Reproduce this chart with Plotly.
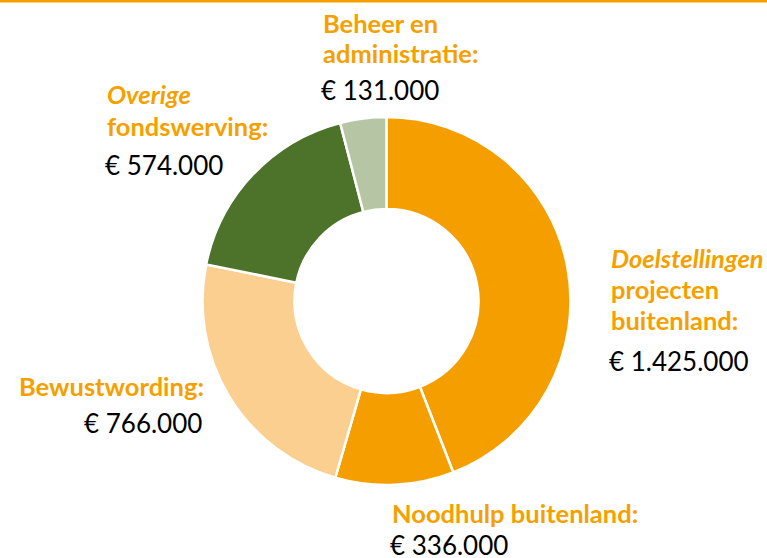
import plotly.graph_objects as go

W, H = 767, 558

categories = ["Doelstellingen projecten buitenland", "Noodhulp buitenland", "Bewustwording",
              "Overige fondswerving", "Beheer en administratie"]
values = [1425000, 336000, 766000, 574000, 131000]
colors = ["#F49E00", "#F49E00", "#FBCF8F", "#4D7229", "#B6C6A5"]

# label lines per category (orange heading lines), italic flags per line
label_lines = [
    [("Doelstellingen", True), ("projecten", False), ("buitenland:", False)],
    [("Noodhulp buitenland:", False)],
    [("Bewustwording:", False)],
    [("Overige", True), ("fondswerving:", False)],
    [("Beheer en", False), ("administratie:", False)],
]

ORANGE_TXT = "#F6A000"
FONT = "Lato"
FS_LABEL = 25.5
FS_VALUE = 26


def euro(v):
    return "€ " + f"{v:,}".replace(",", ".")


def px(x):
    return x / W


def py(y):
    return 1 - y / H


fig = go.Figure(go.Pie(
    labels=categories,
    values=values,
    sort=False,
    direction="clockwise",
    rotation=0,
    hole=0.5,
    marker=dict(colors=colors, line=dict(color="white", width=2.5)),
    textinfo="none",
    hoverinfo="label+value",
    domain=dict(x=[px(386.5 - 184), px(386.5 + 184)], y=[py(485), py(117)]),
    showlegend=False,
))

# text block layout: (anchor x, xanchor, [line center ys], value center y)
blocks = [
    (609, "left", [258, 289, 320], 361),
    (390, "left", [513], 545),
    (206, "right", [386], 423),
    (105, "left", [94, 126], 165),
    (321, "left", [23, 53], 90),
]

annotations = []
for cat_i, (x, xa, ys, vy) in enumerate(blocks):
    for (txt, ital), y in zip(label_lines[cat_i], ys):
        t = f"<b><i>{txt}</i></b>" if ital else f"<b>{txt}</b>"
        annotations.append(dict(
            x=px(x), y=py(y), xref="paper", yref="paper", xanchor=xa, yanchor="middle",
            text=t, showarrow=False, font=dict(family=FONT, size=FS_LABEL, color=ORANGE_TXT)))
    annotations.append(dict(
        x=px(x - 2), y=py(vy), xref="paper", yref="paper",
        xanchor=xa, yanchor="middle",
        text=euro(values[cat_i]), showarrow=False,
        font=dict(family=FONT, size=FS_VALUE, color="#000000")))

fig.update_layout(
    width=W, height=H,
    margin=dict(l=0, r=0, t=0, b=0),
    paper_bgcolor="white", plot_bgcolor="white",
    annotations=annotations,
    shapes=[dict(type="rect", xref="paper", yref="paper", x0=0, x1=1,
                 y0=py(2.5), y1=1, fillcolor="#F6A000", line=dict(width=0))],
)

fig.write_html("out.html", config={"displayModeBar": False},
               post_script="document.body.style.margin='0';")
